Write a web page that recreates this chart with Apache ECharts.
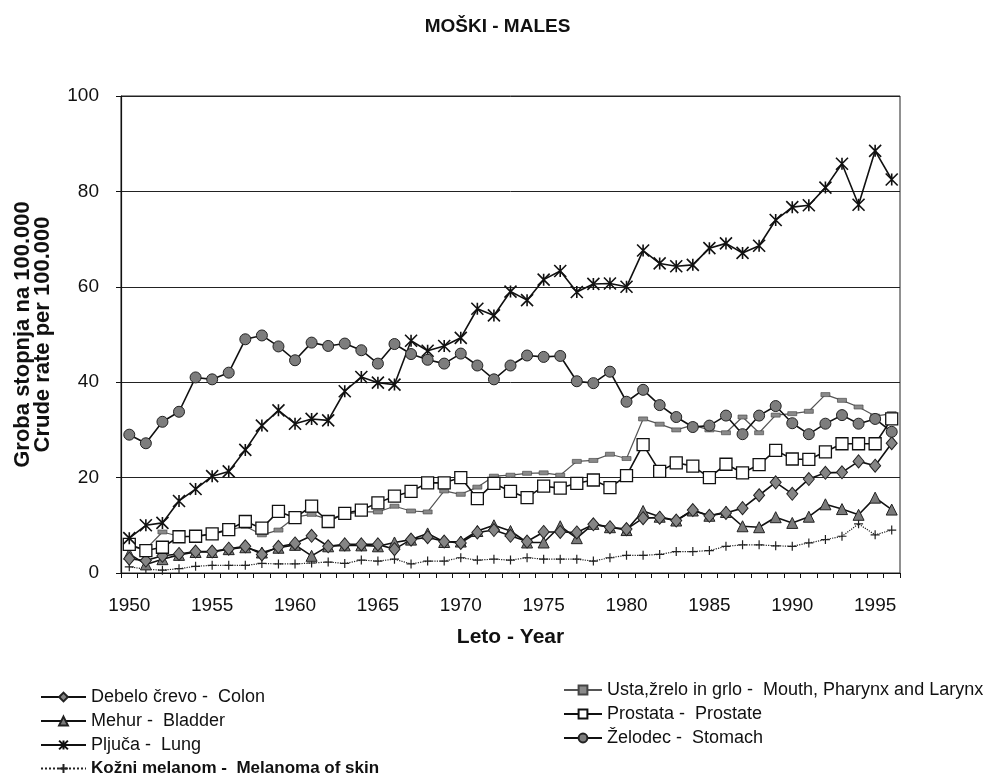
<!DOCTYPE html>
<html>
<head>
<meta charset="utf-8">
<script src="https://cdn.jsdelivr.net/npm/echarts@6/dist/echarts.min.js"></script>
<style>
  html, body { margin: 0; background: #fff; }
  #chart { width: 995px; height: 783px; }
</style>
</head>
<body>
<div id="chart"></div>
<script>
// podatki - groba stopnja na 100.000, moski
const years = ['1950','1951','1952','1953','1954','1955','1956','1957','1958','1959',
  '1960','1961','1962','1963','1964','1965','1966','1967','1968','1969',
  '1970','1971','1972','1973','1974','1975','1976','1977','1978','1979',
  '1980','1981','1982','1983','1984','1985','1986','1987','1988','1989',
  '1990','1991','1992','1993','1994','1995','1996'];

const colon = [3.0, 2.6, 3.6, 4.0, 4.5, 4.5, 5.1, 5.6, 3.9, 5.5,
  6.2, 7.8, 5.6, 6.0, 6.0, 6.0, 5.0, 7.0, 7.5, 6.6,
  6.3, 8.5, 9.0, 7.8, 6.6, 8.6, 8.6, 8.5, 10.2, 9.6,
  9.2, 11.5, 11.6, 11.0, 13.2, 12.0, 12.6, 13.6, 16.3, 19.0,
  16.6, 19.7, 21.0, 21.1, 23.4, 22.5, 27.2];

const bladder = [4.0, 1.8, 2.9, 3.8, 4.4, 4.4, 5.0, 5.4, 4.3, 5.3,
  5.9, 3.6, 5.6, 5.8, 5.8, 5.6, 6.4, 7.0, 8.3, 6.5,
  6.6, 8.8, 10.0, 8.8, 6.4, 6.4, 9.8, 7.3, 10.3, 9.6,
  9.0, 13.0, 11.8, 11.0, 13.1, 12.0, 12.8, 9.8, 9.6, 11.7,
  10.5, 11.8, 14.4, 13.4, 12.2, 15.8, 13.3];

const lung = [7.3, 10.0, 10.5, 15.1, 17.6, 20.3, 21.3, 25.8, 30.9, 34.1,
  31.3, 32.3, 32.0, 38.1, 41.1, 39.9, 39.5, 48.7, 46.6, 47.6,
  49.3, 55.4, 54.0, 59.0, 57.2, 61.5, 63.3, 58.9, 60.6, 60.7,
  60.0, 67.6, 64.9, 64.3, 64.6, 68.1, 69.1, 67.1, 68.6, 74.0,
  76.7, 77.1, 80.8, 85.8, 77.2, 88.5, 82.5];

const melanoma = [1.3, 0.8, 0.6, 0.9, 1.4, 1.6, 1.6, 1.6, 2.0, 1.9,
  1.9, 2.1, 2.3, 2.0, 2.7, 2.5, 2.9, 1.9, 2.5, 2.5,
  3.2, 2.7, 2.9, 2.7, 3.2, 2.9, 2.9, 2.9, 2.5, 3.2,
  3.7, 3.7, 3.9, 4.5, 4.5, 4.7, 5.6, 5.9, 5.9, 5.7,
  5.6, 6.3, 7.0, 7.7, 10.3, 8.0, 9.0];

const mouth = [5.5, 5.0, 8.6, 7.7, 7.6, 8.1, 9.0, 9.8, 8.0, 9.0,
  11.7, 12.3, 11.3, 12.3, 12.8, 12.8, 14.0, 13.0, 12.8, 17.2,
  16.5, 18.0, 20.3, 20.5, 20.9, 21.0, 20.5, 23.4, 23.6, 24.9,
  24.0, 32.3, 31.2, 30.0, 31.0, 30.0, 29.4, 32.7, 29.4, 33.1,
  33.4, 33.9, 37.4, 36.2, 34.8, 32.9, 33.4];

const prostate = [6.0, 4.7, 5.4, 7.6, 7.7, 8.2, 9.1, 10.8, 9.4, 12.9,
  11.6, 14.0, 10.8, 12.5, 13.2, 14.7, 16.1, 17.1, 18.9, 18.9,
  20.0, 15.6, 18.8, 17.1, 15.8, 18.2, 17.8, 18.8, 19.5, 17.9,
  20.4, 26.9, 21.3, 23.1, 22.4, 20.0, 22.8, 21.0, 22.7, 25.7,
  23.9, 23.8, 25.4, 27.1, 27.1, 27.1, 32.3];

const stomach = [29.0, 27.2, 31.7, 33.8, 41.0, 40.6, 42.0, 49.0, 49.8, 47.5,
  44.6, 48.3, 47.6, 48.1, 46.7, 43.9, 48.0, 45.9, 44.7, 43.9,
  46.0, 43.5, 40.6, 43.5, 45.6, 45.3, 45.5, 40.2, 39.8, 42.2,
  35.9, 38.4, 35.2, 32.7, 30.6, 30.9, 33.0, 29.1, 33.0, 35.0,
  31.4, 29.1, 31.3, 33.1, 31.3, 32.3, 29.6];

const yTicks = [0, 20, 40, 60, 80, 100];

const names = {
  colon: 'Debelo črevo -  Colon',
  bladder: 'Mehur -  Bladder',
  lung: 'Pljuča -  Lung',
  melanoma: 'Kožni melanom -  Melanoma of skin',
  mouth: 'Usta,žrelo in grlo -  Mouth, Pharynx and Larynx',
  prostate: 'Prostata -  Prostate',
  stomach: 'Želodec -  Stomach'
};

const FONT = '"Liberation Sans", Arial, sans-serif';

const myChart = echarts.init(document.getElementById('chart'), null, { renderer: 'canvas' });

const line = (name, data, extra) => Object.assign({
  name: name,
  type: 'line',
  data: data,
  showAllSymbol: true,
  symbolSize: 11,
  lineStyle: { color: '#111', width: 1.6 },
  itemStyle: { color: '#777', borderColor: '#111', borderWidth: 1 },
  emphasis: { disabled: true },
  animation: false
}, extra);

// legenda - melanom je v originalu krepko
const legendText = {
  fontSize: 18, color: '#111', fontFamily: FONT, lineHeight: 16,
  rich: { b: { fontSize: 17, fontWeight: 'bold', color: '#111', fontFamily: FONT, lineHeight: 16 } }
};

const option = {
  backgroundColor: '#fff',
  textStyle: { fontFamily: FONT },
  title: {
    text: 'MOŠKI - MALES',
    left: 'center',
    top: 12,
    textStyle: { fontSize: 19, fontWeight: 'bold', color: '#111', fontFamily: FONT }
  },
  grid: {
    left: 121, right: 95, top: 96, bottom: 210,
    outerBoundsMode: 'none',
    show: true, borderColor: '#222', borderWidth: 1
  },
  legend: [
    {
      orient: 'vertical',
      left: 40, top: 688, padding: 0,
      itemWidth: 45, itemHeight: 11, itemGap: 6,
      data: [names.colon, names.bladder, names.lung, names.melanoma],
      formatter: (n) => n === names.melanoma ? '{b|' + n + '}' : n,
      textStyle: legendText
    },
    {
      orient: 'vertical',
      left: 563, top: 681, padding: 0,
      itemWidth: 38, itemHeight: 11, itemGap: 6,
      data: [names.mouth, names.prostate, names.stomach],
      textStyle: legendText
    }
  ],
  xAxis: {
    type: 'category',
    data: years,
    boundaryGap: true,
    name: 'Leto - Year',
    nameLocation: 'middle',
    nameGap: 54,
    nameTextStyle: { fontSize: 21, fontWeight: 'bold', color: '#111' },
    axisLine: { lineStyle: { color: '#111', width: 1 } },
    axisTick: { show: true, interval: 0, length: 5, lineStyle: { color: '#111' } },
    axisLabel: { interval: 4, fontSize: 19, color: '#111', margin: 23 },
    splitLine: { show: false }
  },
  yAxis: {
    type: 'value',
    min: yTicks[0],
    max: yTicks[yTicks.length - 1],
    interval: yTicks[1] - yTicks[0],
    name: 'Groba stopnja na 100.000\nCrude rate per 100.000',
    nameLocation: 'middle',
    nameRotate: 90,
    nameGap: 68,
    nameTextStyle: { fontSize: 22, fontWeight: 'bold', color: '#111', lineHeight: 20 },
    axisLine: { show: true, lineStyle: { color: '#111', width: 1.2 } },
    axisTick: { show: true, length: 5, lineStyle: { color: '#111' } },
    axisLabel: { fontSize: 19, color: '#111', margin: 22 },
    splitLine: { show: true, lineStyle: { color: '#222', width: 1 } }
  },
  series: [
    line(names.mouth, mouth, {
      symbol: 'rect', symbolSize: [9, 4],
      lineStyle: { color: '#555', width: 1.2 },
      itemStyle: { color: '#8a8a8a', borderColor: '#444', borderWidth: 0.6 }
    }),
    line(names.melanoma, melanoma, {
      symbol: 'path://M5,0L5,10M0,5L10,5', symbolSize: 9,
      lineStyle: { color: '#222', width: 1.2, type: 'dotted' },
      itemStyle: { color: '#222', borderColor: '#222', borderWidth: 1.2 }
    }),
    line(names.bladder, bladder, {
      symbol: 'triangle', symbolSize: 11,
      itemStyle: { color: '#7a7a7a', borderColor: '#222', borderWidth: 1 }
    }),
    line(names.colon, colon, {
      symbol: 'diamond', symbolSize: [11, 13],
      itemStyle: { color: '#858585', borderColor: '#222', borderWidth: 1 }
    }),
    line(names.prostate, prostate, {
      symbol: 'rect', symbolSize: 12,
      itemStyle: { color: '#fff', borderColor: '#111', borderWidth: 1.3 }
    }),
    line(names.lung, lung, {
      symbol: 'path://M0,0L10,10M10,0L0,10M5,0L5,10', symbolSize: 12,
      itemStyle: { color: '#111', borderColor: '#111', borderWidth: 1.6 }
    }),
    line(names.stomach, stomach, {
      symbol: 'circle', symbolSize: 11,
      itemStyle: { color: '#7d7d7d', borderColor: '#222', borderWidth: 1 }
    })
  ]
};

option && myChart.setOption(option);
</script>
</body>
</html>
